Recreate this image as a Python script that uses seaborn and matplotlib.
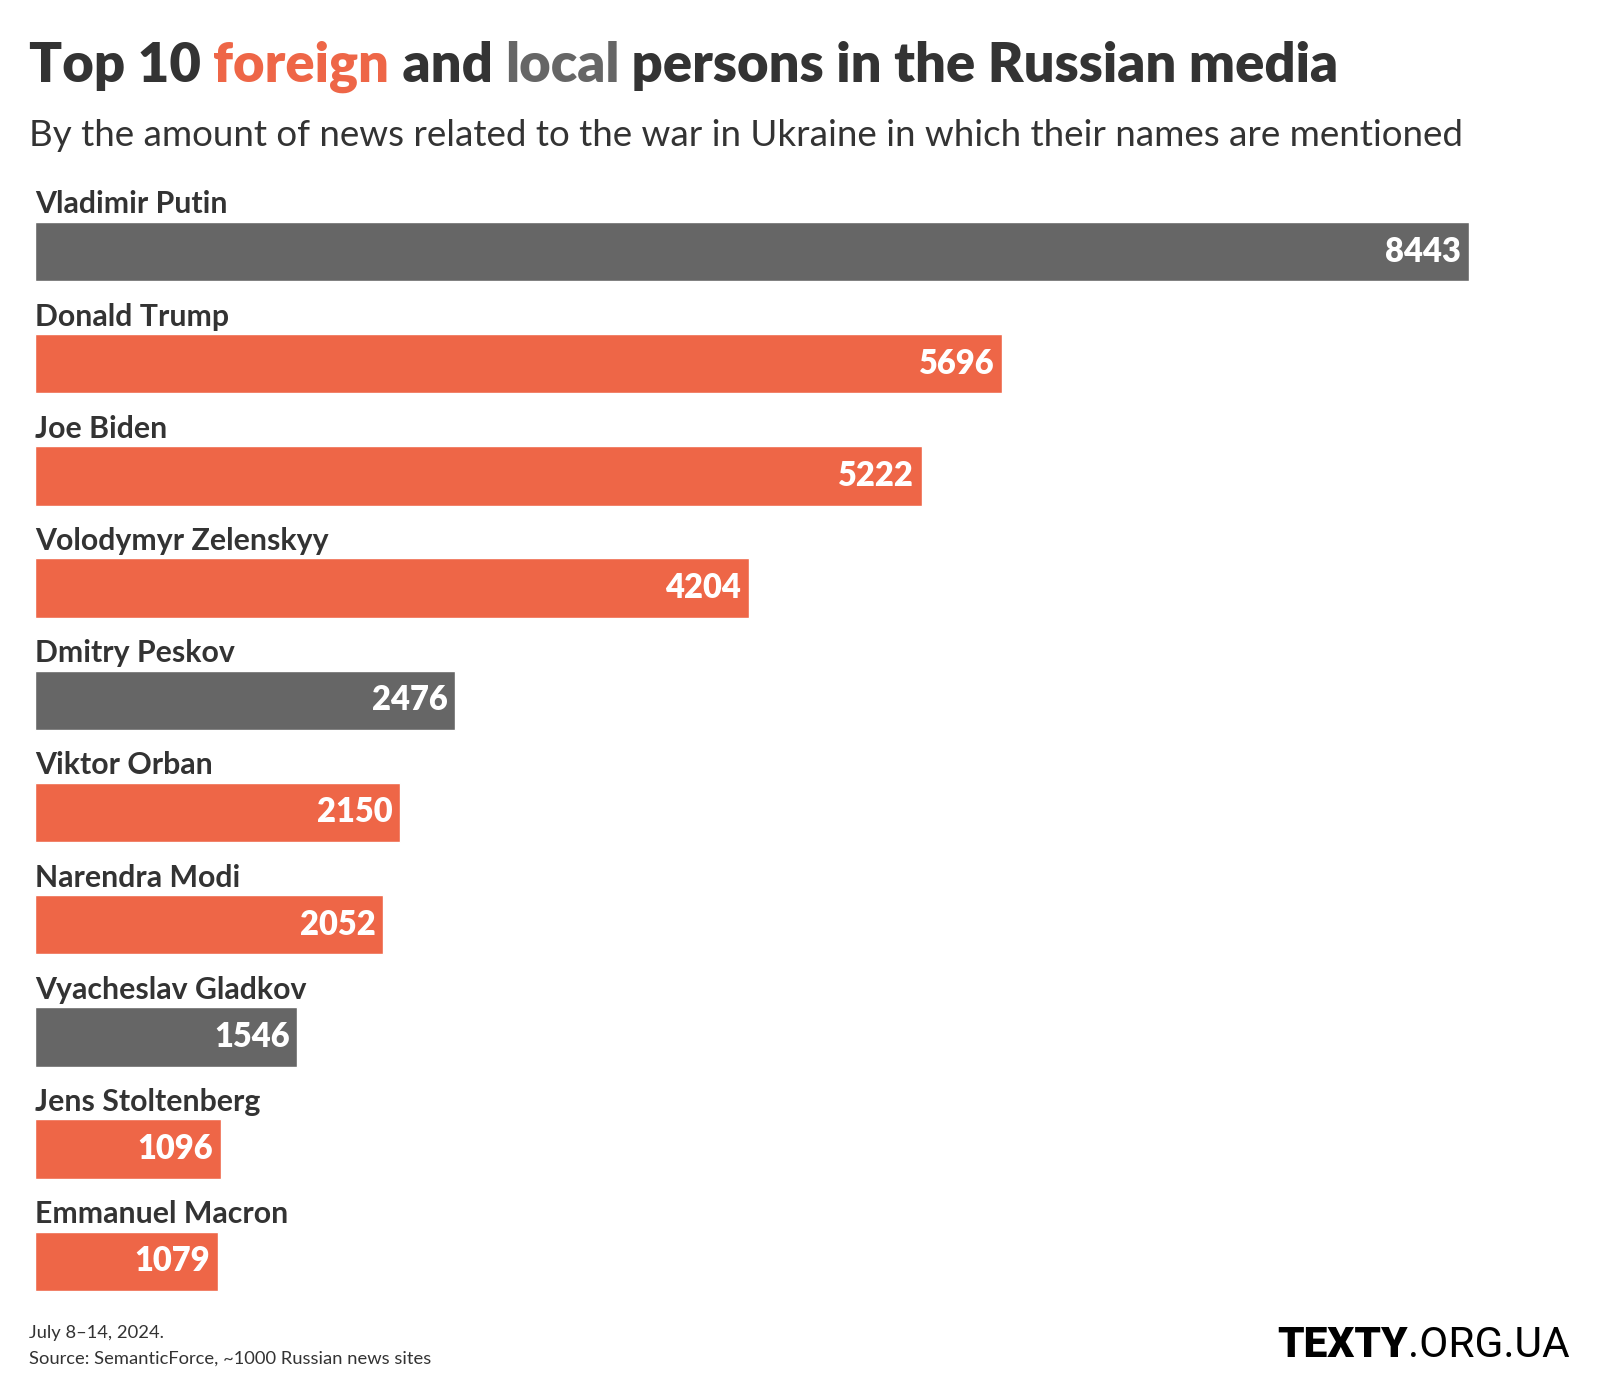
import matplotlib
matplotlib.use("Agg")
import matplotlib.pyplot as plt
import pandas as pd
import seaborn as sns

names = ["Vladimir Putin", "Donald Trump", "Joe Biden", "Volodymyr Zelenskyy", "Dmitry Peskov",
         "Viktor Orban", "Narendra Modi", "Vyacheslav Gladkov", "Jens Stoltenberg", "Emmanuel Macron"]
mentions = [8443, 5696, 5222, 4204, 2476, 2150, 2052, 1546, 1096, 1079]
group = ["local", "foreign", "foreign", "foreign", "local",
         "foreign", "foreign", "local", "foreign", "foreign"]

ORANGE = "#EE6647"
GREY = "#666666"
DARK = "#333333"

df = pd.DataFrame({"name": names, "mentions": mentions, "group": group})

sns.set_style("white")
plt.rcParams["font.family"] = ["Lato", "DejaVu Sans"]

W, H = 1600, 1400
fig = plt.figure(figsize=(16, 14), dpi=100)

# axes placed so that bar centres land where the reference has them
step = 112.2
top_px = 251.5 - 1.5 * step
ax = fig.add_axes([34.7 / W, 1 - (top_px + 11 * step) / H, (1469 - 34.7) / W, 11 * step / H])
sns.barplot(data=df, y="name", x="mentions", hue="group", palette={"foreign": ORANGE, "local": GREY},
            dodge=False, width=0.53, legend=False, ax=ax, orient="h", saturation=1)
ax.set_xlim(0, max(mentions))
ax.set_ylim(9.5, -1.5)
ax.axis("off")

for i, (n, v) in enumerate(zip(names, mentions)):
    ax.text(0, i - 0.34, n, ha="left", va="baseline", fontsize=21.8, fontweight="bold", color=DARK)
    ax.annotate(str(v), xy=(v, i), xytext=(-5.5, 0), textcoords="offset points", ha="right", va="center",
                fontsize=23.5, fontweight="heavy", color="white")

# title with coloured words
renderer = fig.canvas.get_renderer()
x = 29 / W
for part, col in [("Top 10 ", DARK), ("foreign", ORANGE), (" and ", DARK), ("local", GREY),
                  (" persons in the Russian media", DARK)]:
    t = fig.text(x, 1 - 82 / H, part, fontsize=39.2, fontweight="heavy", color=col, va="baseline")
    bb = t.get_window_extent(renderer)
    x += bb.width / W

fig.text(29 / W, 1 - 146 / H, "By the amount of news related to the war in Ukraine in which their names are mentioned",
         fontsize=26.5, color=DARK, va="baseline")

fig.text(29 / W, 1 - 1338 / H, "July 8\u201314, 2024.", fontsize=13.2, color=DARK, va="baseline")
fig.text(29 / W, 1 - 1364 / H, "Source: SemanticForce, ~1000 Russian news sites", fontsize=13.2, color=DARK,
         va="baseline")

# logo
t2 = fig.text(1570 / W, 1 - 1357 / H, ".ORG.UA", fontsize=30.5, family="Roboto", fontweight="normal",
              color="black", ha="right", va="baseline")
bb = t2.get_window_extent(renderer)
fig.text(bb.x0 / W, 1 - 1357 / H, "TEXTY", fontsize=30.5, family="Roboto", fontweight="heavy",
         color="black", ha="right", va="baseline")

fig.savefig("out.png", dpi=100, facecolor="white")
